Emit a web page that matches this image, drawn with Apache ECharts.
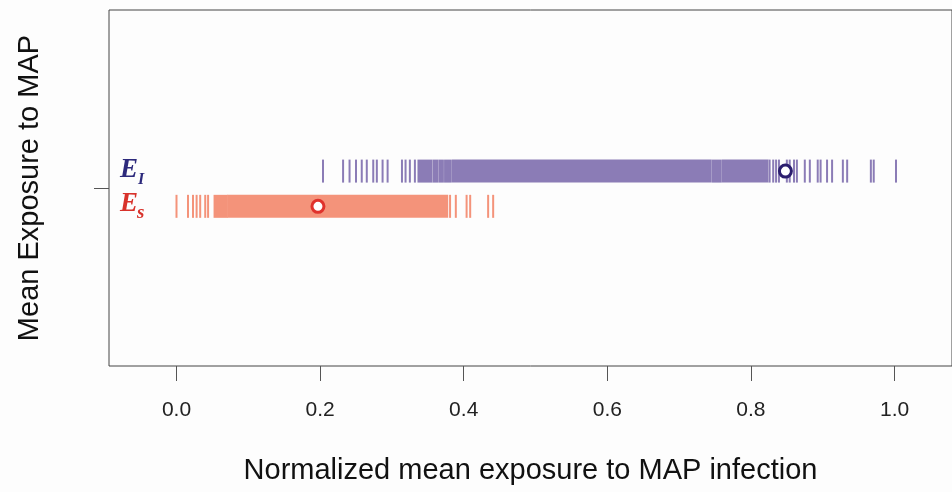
<!DOCTYPE html>
<html><head><meta charset="utf-8">
<script src="https://cdn.jsdelivr.net/npm/echarts@6/dist/echarts.min.js"></script>
<style>html,body{margin:0;padding:0;background:#fdfdfd;}#c{width:952px;height:492px;}</style>
</head><body><div id="c"></div>
<script>
// Tick labels
const xTicks = [0.0, 0.2, 0.4, 0.6, 0.8, 1.0];
// Strip positions (y value of each group)
const yInfected = 1.095;
const ySusceptible = 0.897;
// E_I: individual observed values (single rug lines)
const eiLines = [0.204, 0.232, 0.241, 0.250, 0.258, 0.265, 0.274, 0.279, 0.287, 0.294, 0.314, 0.319, 0.325, 0.332,
  0.826, 0.831, 0.835, 0.839, 0.850, 0.854, 0.860, 0.864, 0.875, 0.882, 0.893, 0.897, 0.906, 0.913, 0.928, 0.934, 0.967, 0.971, 1.002];
// E_I: dense runs of observed values [from, to]
const eiRuns = [[0.337, 0.355], [0.358, 0.363], [0.366, 0.371], [0.374, 0.382], [0.385, 0.744], [0.747, 0.758], [0.761, 0.823]];
// E_S: individual observed values
const esLines = [0.000, 0.016, 0.023, 0.028, 0.033, 0.040, 0.044, 0.381, 0.389, 0.404, 0.409, 0.434, 0.441];
// E_S: dense runs
const esRuns = [[0.053, 0.070], [0.072, 0.377]];
// Means
const eiMean = 0.848;
const esMean = 0.197;

function toItems(lines, runs, y) {
  const out = [];
  lines.forEach(v => out.push([v, v, y]));
  runs.forEach(r => out.push([r[0], r[1], y]));
  return out;
}
function renderStrip(params, api) {
  const a = api.coord([api.value(0), api.value(2)]);
  const b = api.coord([api.value(1), api.value(2)]);
  return {
    type: 'rect',
    shape: { x: a[0] - 1, y: a[1] - 11.5, width: (b[0] - a[0]) + 2, height: 23 },
    style: { fill: api.visual('color') }
  };
}

const chart = echarts.init(document.getElementById('c'), null, { renderer: 'canvas' });
chart.setOption({
  backgroundColor: '#fdfdfd',
  animation: false,
  grid: { left: 109, top: 10, right: -3, bottom: 126, show: true, borderColor: '#444', borderWidth: 1, backgroundColor: 'transparent' },
  xAxis: {
    type: 'value', min: -0.094, max: 1.08,
    axisLine: { show: false, onZero: false },
    splitLine: { show: false },
    axisTick: { show: true, length: 15, lineStyle: { color: '#555' }, customValues: xTicks },
    axisLabel: { fontFamily: 'Liberation Sans', fontSize: 21, color: '#222', margin: 34, customValues: xTicks,
      formatter: v => v.toFixed(1) },
    name: 'Normalized mean exposure to MAP infection',
    nameLocation: 'middle', nameGap: 90,
    nameTextStyle: { fontFamily: 'Liberation Sans', fontSize: 29, color: '#111' }
  },
  yAxis: {
    type: 'value', min: 0, max: 2,
    axisLine: { show: false, onZero: false },
    splitLine: { show: false },
    axisTick: { show: true, length: 15, lineStyle: { color: '#555' }, customValues: [1] },
    axisLabel: { show: false },
    name: 'Mean Exposure to MAP',
    nameLocation: 'middle', nameGap: 65,
    nameTextStyle: { fontFamily: 'Liberation Sans', fontSize: 29, color: '#111' }
  },
  series: [
    { type: 'custom', name: 'EI', renderItem: renderStrip, itemStyle: { color: '#8b7cb6' },
      encode: { x: [0, 1], y: 2 }, data: toItems(eiLines, eiRuns, yInfected) },
    { type: 'custom', name: 'ES', renderItem: renderStrip, itemStyle: { color: '#f4937a' },
      encode: { x: [0, 1], y: 2 }, data: toItems(esLines, esRuns, ySusceptible) },
    { type: 'scatter', symbol: 'circle', symbolSize: 12, z: 5,
      itemStyle: { color: '#ffffff', borderColor: '#2b1e6e', borderWidth: 3, opacity: 1 },
      data: [[eiMean, yInfected]] },
    { type: 'scatter', symbol: 'circle', symbolSize: 12, z: 5,
      itemStyle: { color: '#ffffff', borderColor: '#e0322c', borderWidth: 3, opacity: 1 },
      data: [[esMean, ySusceptible]] }
  ],
  graphic: [
    { type: 'text', left: 120, top: 157, style: { text: 'E', font: 'italic bold 27px "Liberation Serif"', fill: '#2d2a7c' } },
    { type: 'text', left: 138, top: 172, style: { text: 'I', font: 'italic bold 16px "Liberation Serif"', fill: '#2d2a7c' } },
    { type: 'text', left: 120, top: 191, style: { text: 'E', font: 'italic bold 27px "Liberation Serif"', fill: '#d8322b' } },
    { type: 'text', left: 137, top: 204, style: { text: 's', font: 'italic bold 19px "Liberation Serif"', fill: '#d8322b' } }
  ]
});
</script></body></html>
